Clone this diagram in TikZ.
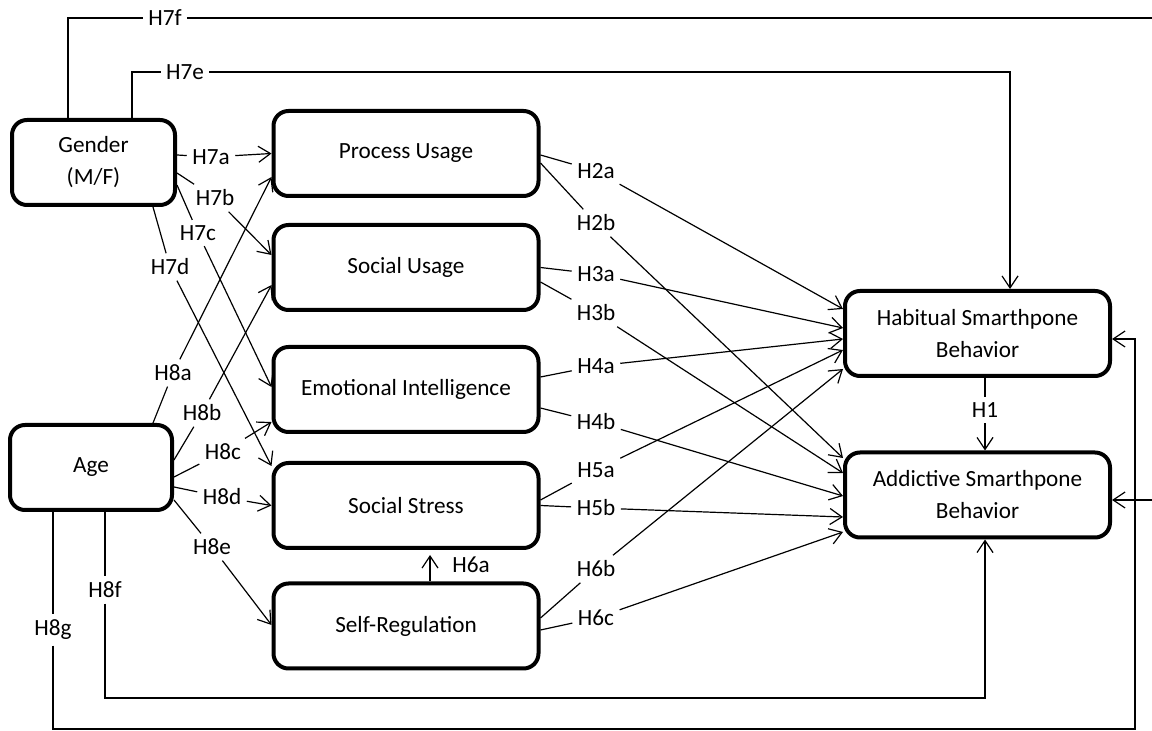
\documentclass[tikz,border=0pt]{standalone}
\usepackage{fontspec}
\setmainfont{Carlito}
\usetikzlibrary{arrows.meta,calc}

\tikzset{
  box/.style={draw, line width=2pt, rounded corners=7.5pt, minimum width=132.5pt,
    minimum height=42.5pt, align=center, font=\fontsize{11.6}{16}\selectfont},
  hyp/.style={inner sep=2.5pt, font=\fontsize{11.6}{14}\selectfont},
}

\begin{document}
\begin{tikzpicture}[>={Straight Barb[length=6pt,width=8pt]}, x=0.5pt, y=-0.5pt, line width=0.6pt]
      \useasboundingbox (0,0) rectangle (1152,731);
      \clip (0,0) rectangle (1152,731);

      % Boxes
      \node[box, minimum width=81.5pt] (gender) at (93.5,162.5) {Gender\\(M/F)};
      \node[box, minimum width=81pt] (age) at (91,467.5) {Age};
      \node[box] (pu) at (406,153.5) {Process Usage};
      \node[box] (su) at (406,267.5) {Social Usage};
      \node[box] (ei) at (406,389.5) {Emotional Intelligence};
      \node[box] (ss) at (406,505.5) {Social Stress};
      \node[box] (sr) at (406,626) {Self-Regulation};
      \node[box] (hab) at (977.5,333.5) {Habitual Smarthpone\\Behavior};
      \node[box] (add) at (977.5,495) {Addictive Smarthpone\\Behavior};

      % Hypothesis labels
      \node[hyp] (h7a) at (211,157) {H7a};
      \node[hyp] (h7b) at (215,198) {H7b};
      \node[hyp] (h7c) at (198,233) {H7c};
      \node[hyp] (h7d) at (170,267) {H7d};
      \node[hyp] (h7e) at (185,72) {H7e};
      \node[hyp] (h7f) at (165,18) {H7f};
      \node[hyp] (h8a) at (173,373) {H8a};
      \node[hyp] (h8b) at (202,413) {H8b};
      \node[hyp] (h8c) at (223,452) {H8c};
      \node[hyp] (h8d) at (222,497) {H8d};
      \node[hyp] (h8e) at (212,547) {H8e};
      \node[hyp] (h8f) at (105,590) {H8f};
      \node[hyp] (h8g) at (53,630) {H8g};
      \node[hyp] (h2a) at (596,171) {H2a};
      \node[hyp] (h2b) at (596,223) {H2b};
      \node[hyp] (h3a) at (596,274) {H3a};
      \node[hyp] (h3b) at (596,313) {H3b};
      \node[hyp] (h4a) at (596,366) {H4a};
      \node[hyp] (h4b) at (596,422) {H4b};
      \node[hyp] (h5a) at (596,470) {H5a};
      \node[hyp] (h5b) at (596,508) {H5b};
      \node[hyp] (h6b) at (596,569) {H6b};
      \node[hyp] (h6c) at (596,618) {H6c};
      \node[hyp] (h6a) at (471,565) {H6a};
      \node[hyp] (h1) at (985,410) {H1};

      % Corners of the long paths
      \coordinate (fright) at (1170,18);
      \coordinate (fcorner) at (985,698);
      \coordinate (gcorner) at (1135,729);

      % Gender
      \draw ($(gender.east)+(0,-7.5)$) -- (h7a);
      \draw[->] (h7a) -- (pu.west);
      \draw ($(gender.east)+(0,10.5)$) -- (h7b);
      \draw[->] (h7b) -- ($(su.west)+(0,-12.5)$);
      \draw ($(gender.east)+(0,22.5)$) -- (h7c);
      \draw[->] (h7c) -- ($(ei.west)+(0,-2.5)$);
      \draw ($(gender.south)+(59.5,0)$) -- (h7d);
      \draw[->] (h7d) -- ($(ss.west)+(0,-39.5)$);
      \draw ($(gender.north)+(38.5,0)$) |- (h7e);
      \draw[->] (h7e) -| ($(hab.north)+(32.5,0)$);
      \draw ($(gender.north)+(-25.5,0)$) |- (h7f);
      \draw[->] (h7f) -- (fright) |- ($(add.east)+(0,5)$);

      % Age
      \draw ($(age.north)+(62,0)$) -- (h8a);
      \draw[->] (h8a) -- ($(pu.west)+(0,23.5)$);
      \draw ($(age.east)+(0,-7.5)$) -- (h8b);
      \draw[->] (h8b) -- ($(su.west)+(0,17.5)$);
      \draw ($(age.east)+(0,9.5)$) -- (h8c);
      \draw[->] (h8c) -- ($(ei.west)+(0,32.5)$);
      \draw ($(age.east)+(0,19.5)$) -- (h8d);
      \draw[->] (h8d) -- (ss.west);
      \draw ($(age.east)+(0,32.5)$) -- (h8e);
      \draw[->] (h8e) -- ($(sr.west)+(0,-1)$);
      \draw ($(age.south)+(14,0)$) -- (h8f);
      \draw[->] (h8f) |- (fcorner) -- ($(add.south)+(7.5,0)$);
      \draw ($(age.south)+(-38,0)$) -- (h8g);
      \draw[->] (h8g) |- (gcorner) |- ($(hab.east)+(0,5.5)$);

      % Usage, intelligence, stress, regulation
      \draw ($(pu.east)+(0,1.5)$) -- (h2a);
      \draw[->] (h2a) -- ($(hab.west)+(0,-24.5)$);
      \draw ($(pu.east)+(0,9.5)$) -- (h2b);
      \draw[->] (h2b) -- ($(add.west)+(0,-37)$);
      \draw (su.east) -- (h3a);
      \draw[->] (h3a) -- ($(hab.west)+(0,-5.5)$);
      \draw ($(su.east)+(0,14.5)$) -- (h3b);
      \draw[->] (h3b) -- ($(add.west)+(0,-22)$);
      \draw ($(ei.east)+(0,-12.5)$) -- (h4a);
      \draw[->] (h4a) -- ($(hab.west)+(0,5.5)$);
      \draw ($(ei.east)+(0,18.5)$) -- (h4b);
      \draw[->] (h4b) -- ($(add.west)+(0,1)$);
      \draw ($(ss.east)+(0,-5.5)$) -- (h5a);
      \draw[->] (h5a) -- ($(hab.west)+(0,16.5)$);
      \draw (ss.east) -- (h5b);
      \draw[->] (h5b) -- ($(add.west)+(0,22)$);
      \draw ($(sr.east)+(0,-8)$) -- (h6b);
      \draw[->] (h6b) -- ($(hab.west)+(0,35.5)$);
      \draw ($(sr.east)+(0,4)$) -- (h6c);
      \draw[->] (h6c) -- ($(add.west)+(0,37)$);
      \draw[->] ($(sr.north)+(24,0)$) -- ($(ss.south)+(24,5)$);

      % Habitual to addictive
      \draw ($(hab.south)+(7.5,0)$) -- (h1);
      \draw[->] (h1) -- ($(add.north)+(7.5,0)$);
    \end{tikzpicture}
\end{document}
